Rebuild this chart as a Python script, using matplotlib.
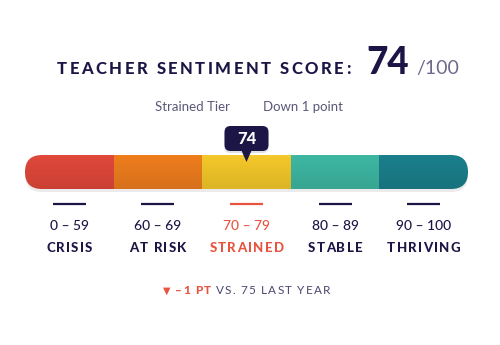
import matplotlib
matplotlib.use('Agg')
import matplotlib.pyplot as plt
from matplotlib.patches import FancyBboxPatch, Polygon
from matplotlib import transforms
import numpy as np

# donnees
tiers = ['CRISIS', 'AT RISK', 'STRAINED', 'STABLE', 'THRIVING']
ranges = ['0 – 59', '60 – 69', '70 – 79', '80 – 89', '90 – 100']
tier_colors = ['#E0483A', '#EE7D1E', '#F4C82A', '#3DB7A2', '#1A7F8B']
score = 74
max_score = 100
last_year = 75
current_tier = 2
tier_name = 'Strained Tier'
change_text = 'Down 1 point'

NAVY = '#1B1646'
RED = '#E8543F'
GREY = '#5A5878'
FONT = ['Lato', 'DejaVu Sans']

W, H = 500, 345
fig = plt.figure(figsize=(W / 100, H / 100), dpi=100)
fig.patch.set_facecolor('white')
renderer = fig.canvas.get_renderer()


def fy(y):
    return 1 - y / H


def text_w(s, **kw):
    t = fig.text(0, 0, s, **kw)
    w = t.get_window_extent(renderer).width
    t.remove()
    return w


def tracked(x, y, s, track, ha='center', **kw):
    # texte avec espacement des lettres (x, y en pixels depuis le haut)
    kw.setdefault('family', FONT)
    ref = text_w('X', **kw)
    offs = [text_w(s[:i] + 'X', **kw) - ref for i in range(len(s))]
    total = text_w(s, **kw) + track * (len(s) - 1)
    x0 = x - total / 2 if ha == 'center' else x
    for i, ch in enumerate(s):
        fig.text((x0 + offs[i] + track * i) / W, fy(y), ch, ha='left', va='baseline', **kw)
    return x0 + total


# titre
tracked(57, 74, 'TEACHER SENTIMENT SCORE:', 2.5, ha='left', fontsize=12, weight='black', color=NAVY)
fig.text(366 / W, fy(74), str(score), family=FONT, fontsize=26.5, weight='black', color=NAVY, va='baseline')
fig.text(416 / W, fy(74), '/' + str(max_score), family=FONT, fontsize=14, color='#6E6A8E', va='baseline')

fig.text(155 / W, fy(111), tier_name, family=FONT, fontsize=9.5, color=GREY, va='baseline')
fig.text(263 / W, fy(111), change_text, family=FONT, fontsize=9.5, color=GREY, va='baseline')

# barre
bx0, bx1, by0, by1 = 25, 468, 155, 189
ax = fig.add_axes([bx0 / W, fy(by1), (bx1 - bx0) / W, (by1 - by0) / H])
ax.set_xlim(0, len(tiers))
ax.set_ylim(0, 1)
ax.axis('off')
sx = len(tiers) / (bx1 - bx0)
sy = 1 / (by1 - by0)
asp = sy / sx

shadow = FancyBboxPatch((0, -3 * sy), len(tiers), 1, boxstyle='round,pad=0,rounding_size=%f' % (17 * sx),
                        mutation_aspect=asp, fc='black', ec='none', alpha=0.08, clip_on=False)
ax.add_patch(shadow)
clip = FancyBboxPatch((0, 0), len(tiers), 1, boxstyle='round,pad=0,rounding_size=%f' % (17 * sx),
                      mutation_aspect=asp, fc='none', ec='none', clip_on=False)
ax.add_patch(clip)
bars = ax.bar(np.arange(len(tiers)) + 0.5, 1, width=1, color=tier_colors)
for b in bars:
    b.set_clip_path(clip)

grad = np.zeros((50, 1, 4))
grad[:, 0, 3] = np.linspace(0, 0.1, 50)
im = ax.imshow(grad, extent=(0, len(tiers), 0, 1), aspect='auto', zorder=3)
im.set_clip_path(clip)

# marqueur
xm = current_tier + 0.5
box_w, box_h, gap, tip = 44, 25, 4, 7
mshadow = FancyBboxPatch((xm - box_w / 2 * sx, 1 + (gap - 2) * sy), box_w * sx, box_h * sy,
                         boxstyle='round,pad=0,rounding_size=%f' % (6 * sx), mutation_aspect=asp,
                         fc='black', ec='none', alpha=0.12, clip_on=False, zorder=4)
ax.add_patch(mshadow)
mbox = FancyBboxPatch((xm - box_w / 2 * sx, 1 + gap * sy), box_w * sx, box_h * sy,
                      boxstyle='round,pad=0,rounding_size=%f' % (6 * sx), mutation_aspect=asp,
                      fc=NAVY, ec='none', clip_on=False, zorder=5)
ax.add_patch(mbox)
ax.add_patch(Polygon([(xm - 5 * sx, 1 + gap * sy + 0.01), (xm + 5 * sx, 1 + gap * sy + 0.01), (xm, 1 - tip * sy)],
                     closed=True, fc=NAVY, ec='none', clip_on=False, zorder=5))
ax.text(xm, 1 + (gap + box_h / 2) * sy, str(score), family=FONT, fontsize=12, weight='black', color='white',
        ha='center', va='center', zorder=6)

# etiquettes
blend = transforms.blended_transform_factory(ax.transData, fig.transFigure)
for i, (name, rng) in enumerate(zip(tiers, ranges)):
    c = RED if i == current_tier else NAVY
    xc = i + 0.5
    ax.plot([xc - 16.5 * sx, xc + 16.5 * sx], [fy(204), fy(204)], transform=blend, color=c, lw=1.6,
            solid_capstyle='butt', clip_on=False)
    xp = bx0 + xc / sx
    fig.text(xp / W, fy(230), rng, family=FONT, fontsize=10, weight='medium', color=c, ha='center', va='baseline')
    tracked(xp, 252, name, 1.3, fontsize=9.5, weight='black', color=c)

# ligne du bas
x = tracked(163, 294, '▼', 0, ha='left', fontsize=7, color=RED)
x = tracked(175, 294, '–%d PT' % (last_year - score), 1.2, ha='left', fontsize=8.5, weight='black', color=RED)
tracked(x + 5, 294, 'VS. %d LAST YEAR' % last_year, 1.2, ha='left', fontsize=8.5, color='#4A4770')

fig.savefig('out.png', dpi=100)
